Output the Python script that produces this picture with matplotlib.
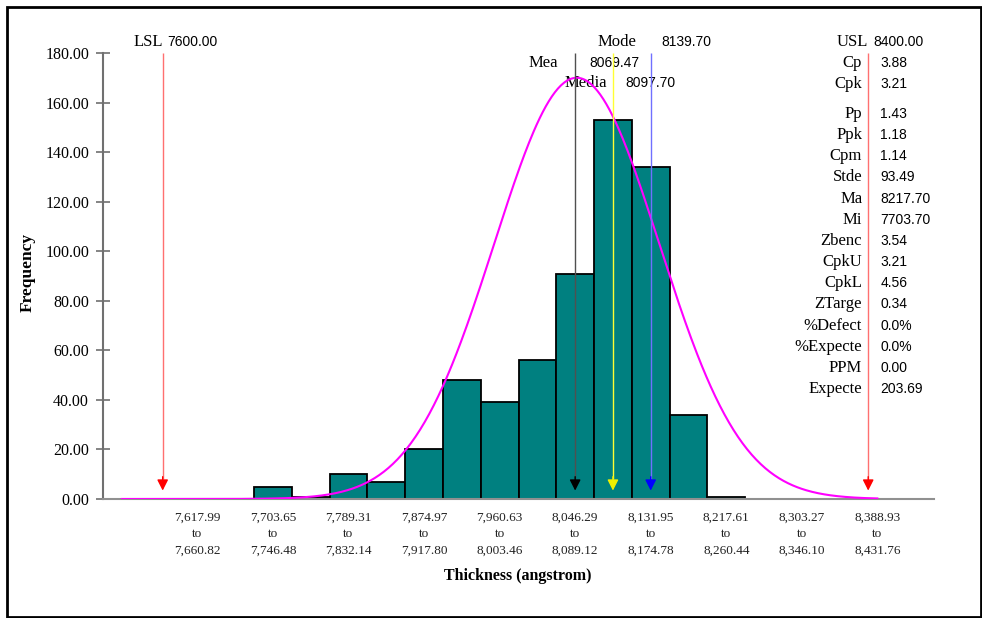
import numpy as np
import matplotlib.pyplot as plt
from matplotlib.patches import Rectangle

# histogram (22 bins of equal width, first edge)
bin_lo = 7532.33
bin_w = 42.83
counts = [0, 0, 0, 0, 5, 1, 10, 7, 20, 48, 39, 56, 91, 153, 134, 34, 1, 0, 0, 0, 0, 0]

tick_lo = ["7,617.99", "7,703.65", "7,789.31", "7,874.97", "7,960.63",
           "8,046.29", "8,131.95", "8,217.61", "8,303.27", "8,388.93"]
tick_hi = ["7,660.82", "7,746.48", "7,832.14", "7,917.80", "8,003.46",
           "8,089.12", "8,174.78", "8,260.44", "8,346.10", "8,431.76"]

lsl = 7600.00
usl = 8400.00
mean = 8069.47
median = 8097.70
mode = 8139.70
stdev = 93.49
curve_peak = 170.0

stat_names = ["Cp", "Cpk", "Pp", "Ppk", "Cpm", "Stde", "Ma", "Mi", "Zbenc", "CpkU",
              "CpkL", "ZTarge", "%Defect", "%Expecte", "PPM", "Expecte"]
stat_values = ["3.88", "3.21", "1.43", "1.18", "1.14", "93.49", "8217.70", "7703.70",
               "3.54", "3.21", "4.56", "0.34", "0.0%", "0.0%", "0.00", "203.69"]

SERIF = "Liberation Serif"
SANS = "Liberation Sans"

edges = bin_lo + bin_w * np.arange(len(counts) + 1)


def bin_center(v):
    i = int((v - bin_lo) // bin_w)
    return bin_lo + (i + 0.5) * bin_w


fig = plt.figure(figsize=(9.82, 6.18), dpi=100)
W, H = 982, 618
ax = fig.add_axes([103 / W, (H - 499) / H, 831 / W, 446 / H])

# bars
ax.bar(edges[:-1], counts, width=bin_w, align="edge", color="#008080",
       edgecolor="black", linewidth=1.3, zorder=2)

# fitted normal curve, drawn from the first to the last labelled-bin centre
xs = np.linspace(edges[0] + bin_w / 2, edges[20] + bin_w / 2, 500)
ax.plot(xs, curve_peak * np.exp(-0.5 * ((xs - mean) / stdev) ** 2),
        color="#ff00ff", lw=1.5, zorder=4)


def marker_line(x, color, head):
    # pale shaft from the top of the axes, solid head at the bottom
    ax.vlines(x, 8, 180, color=color, lw=1.0, zorder=5)
    ax.annotate("", xy=(x, 3.4), xytext=(x, 9),
                arrowprops=dict(arrowstyle="-|>,head_length=0.65,head_width=0.33",
                                lw=1.0, shrinkA=0, shrinkB=0, fc=head, ec=head),
                annotation_clip=False, zorder=5)


marker_line(lsl, "#ff7070", "red")
marker_line(usl, "#ff7070", "red")
marker_line(bin_center(mean), "#505050", "black")
marker_line(bin_center(median), "#ffff33", "#f0f000")
marker_line(bin_center(mode), "#7070ff", "blue")


def label_pair(x, y, name, value, dx_name, dx_val):
    ax.annotate(name, xy=(x, y), xytext=(dx_name, 0), textcoords="offset pixels",
                ha="right", va="center", family=SERIF, fontsize=12,
                annotation_clip=False)
    ax.annotate(value, xy=(x, y), xytext=(dx_val, 0), textcoords="offset pixels",
                ha="left", va="center", family=SANS, fontsize=10,
                annotation_clip=False)


label_pair(lsl, 184.5, "LSL", f"{lsl:.2f}", 0, 5)
label_pair(usl, 184.5, "USL", f"{usl:.2f}", 0, 5)
label_pair(bin_center(mode), 184.4, "Mode", f"{mode:.2f}", -14, 11)
label_pair(bin_center(mean), 176.0, "Mea", f"{mean:.2f}", -17, 14)
label_pair(bin_center(median), 168.0, "Media", f"{median:.2f}", -6, 12)

# statistics column next to the USL line
y = 176.0
for i, (n, v) in enumerate(zip(stat_names, stat_values)):
    label_pair(usl, y, n, v, -6, 12)
    y -= 12.0 if i == 1 else 8.55

# axes styling
ax.set_xlim(edges[0], edges[-1])
ax.set_ylim(0, 180)
ax.set_yticks(np.arange(0, 181, 20))
ax.set_yticklabels([f"{t:.2f}" for t in np.arange(0, 181, 20)],
                   family=SERIF, fontsize=11.5)
ax.tick_params(axis="y", direction="inout", length=10, width=1.2,
               color="#707070", pad=5)

tick_pos = [(float(a.replace(",", "")) + float(b.replace(",", ""))) / 2
            for a, b in zip(tick_lo, tick_hi)]
ax.set_xticks(tick_pos)
ax.set_xticklabels([f"{a}\nto\n{b}" for a, b in zip(tick_lo, tick_hi)],
                   family=SERIF, fontsize=9.5, color="#222222", linespacing=1.5)
ax.tick_params(axis="x", length=0, pad=9)

for s in ["top", "right"]:
    ax.spines[s].set_visible(False)
ax.spines["left"].set_color("#707070")
ax.spines["left"].set_linewidth(1.5)
ax.spines["bottom"].set_color("#909090")
ax.spines["bottom"].set_linewidth(1.5)

fig.text(518 / W, 1 - 576 / H, "Thickness (angstrom)", ha="center", va="center",
         family=SERIF, fontsize=11.5, fontweight="bold")
fig.text(28 / W, 1 - 272 / H, "Frequency", ha="center", va="center",
         rotation=90, family=SERIF, fontsize=12.5, fontweight="bold")

# outer frame
fig.patches.append(Rectangle((7 / W, 1 / H), 974 / W, 610 / H, transform=fig.transFigure,
                             fill=False, edgecolor="black", linewidth=2))

fig.savefig("out.png", dpi=100)
